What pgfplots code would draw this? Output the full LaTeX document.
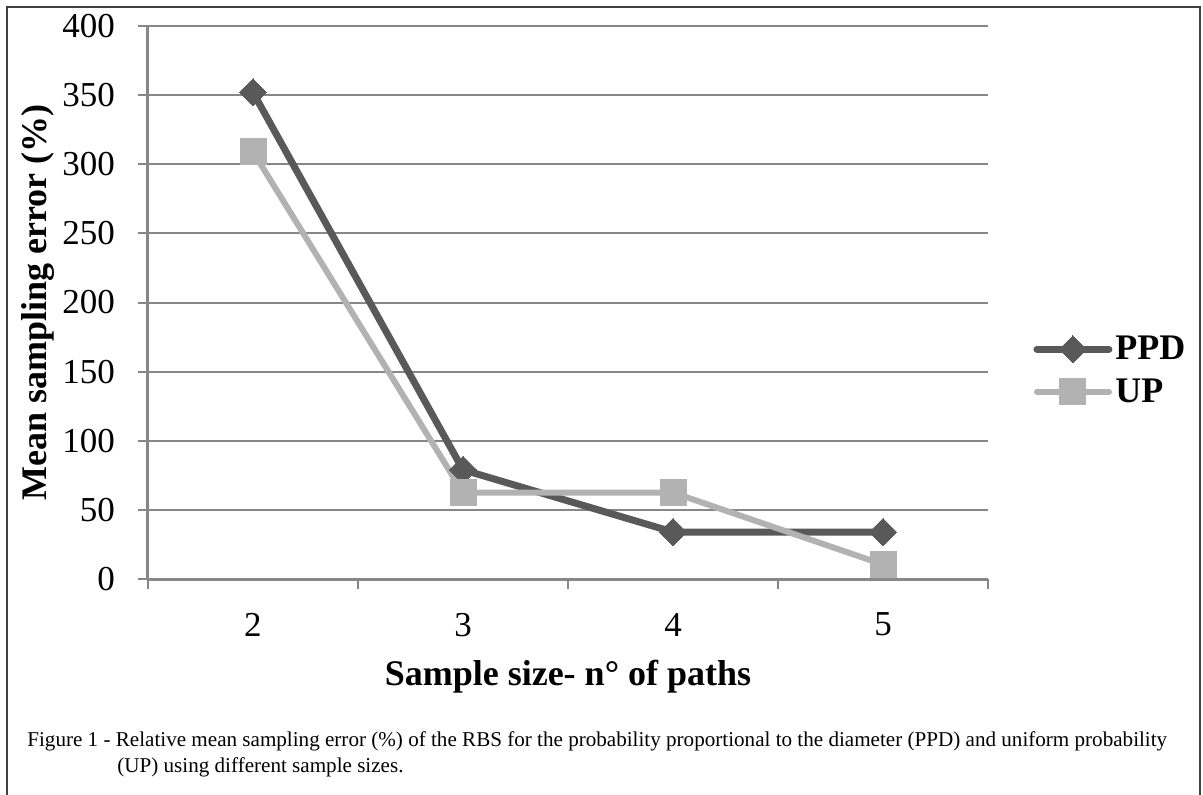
\documentclass[border=0pt]{standalone}
\usepackage{fontspec}
\setmainfont{Liberation Serif}
\usepackage{pgfplots}
\pgfplotsset{compat=1.18}
\definecolor{ppdgray}{HTML}{595959}
\definecolor{upgray}{HTML}{B2B2B2}
\definecolor{gridgray}{HTML}{878787}
\definecolor{framegray}{HTML}{404040}

\begin{document}
\begin{tikzpicture}
\useasboundingbox (-74pt,-107.5pt) rectangle (527.5pt,289.5pt);
\draw[line width=1pt, framegray] (-70.5pt,-108pt) -- (-70.5pt,286pt) -- (526pt,286pt) -- (526pt,-108pt);
\begin{axis}[
  at={(0,0)}, anchor=south west,
  scale only axis,
  width=420pt, height=276.5pt,
  xmin=-0.5, xmax=3.5, ymin=0, ymax=400,
  axis x line*=bottom, axis y line*=left,
  axis line style={-, draw=gridgray, line width=1.5pt},
  ytick={0,50,...,400},
  ymajorgrids,
  grid style={draw=gridgray, line width=1pt},
  tick align=outside,
  major tick length=5pt,
  tick style={draw=gridgray, line width=1pt},
  xtick={-0.5,0.5,1.5,2.5,3.5},
  xticklabels={},
  extra x ticks={0,1,2,3},
  extra x tick labels={2,3,4,5},
  extra x tick style={major tick length=0pt, grid=none},
  /pgf/number format/assume math mode=true,
  ticklabel style={font=\fontsize{17.5}{20}\selectfont},
  yticklabel style={xshift=-8pt},
  xticklabel style={yshift=-13.5pt},
  xlabel={Sample size- n° of paths},
  ylabel={Mean sampling error (\%)},
  xlabel style={font=\bfseries\fontsize{18}{21}\selectfont, at={(rel axis cs:0.5,0)}, anchor=base, yshift=-53pt},
  ylabel style={font=\bfseries\fontsize{18}{21}\selectfont, at={(rel axis cs:0,0.5)}, anchor=base, rotate=0, yshift=50.5pt},
  legend style={at={(1,0.377)}, anchor=west, xshift=22.5pt, draw=none, fill=none,
    inner sep=0pt, row sep=5pt, font=\bfseries\fontsize{18}{21}\selectfont,
    nodes={inner sep=1.5pt}},
  legend cell align=left,
  legend image code/.code={\draw[#1, mark repeat=2, mark phase=2] plot coordinates {(0pt,0pt) (18pt,0pt) (36pt,0pt)};},
]
\addplot[color=ppdgray, line width=3.5pt, line cap=round, line join=round,
  mark=square*, mark size=4.8pt, mark options={rotate=45, line width=0pt, fill=ppdgray}]
  coordinates {(0,352) (1,79) (2,34) (3,34)};
\addlegendentry{PPD}
\addplot[color=upgray, line width=3pt, line cap=round, line join=round,
  mark=square*, mark size=6.5pt, mark options={line width=0pt, fill=upgray}]
  coordinates {(0,309) (1,62.5) (2,62.5) (3,10.5)};
\addlegendentry{UP}
\end{axis}
\node[anchor=base west, font=\fontsize{10.55}{12.5}\selectfont, inner sep=0pt] at (-60.5pt,-83.5pt)
  {Figure 1 - Relative mean sampling error (\%) of the RBS for the probability proportional to the diameter (PPD) and uniform probability};
\node[anchor=base west, font=\fontsize{10.55}{12.5}\selectfont, inner sep=0pt] at (-15.5pt,-96.5pt)
  {(UP) using different sample sizes.};
\end{tikzpicture}
\end{document}
